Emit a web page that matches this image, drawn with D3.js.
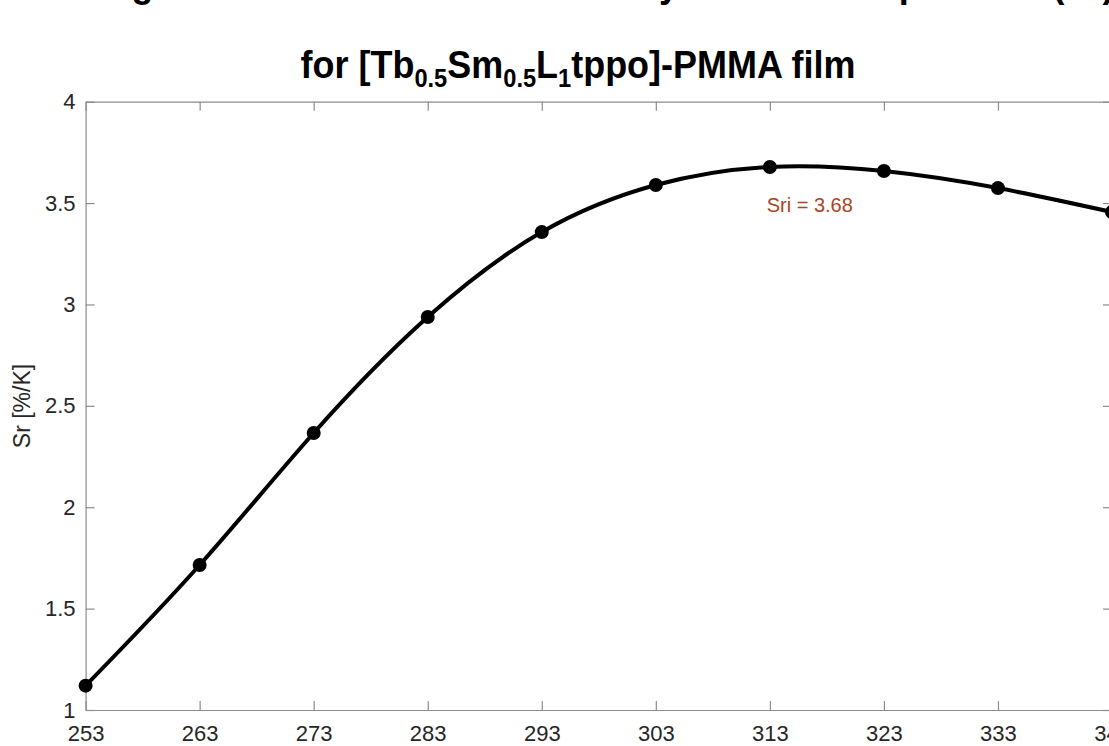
<!DOCTYPE html>
<html><head><meta charset="utf-8">
<script src="https://cdn.jsdelivr.net/npm/d3@7"></script>
<style>
body{margin:0;background:#fff;overflow:hidden;}
text{font-family:"Liberation Sans",Arial,Helvetica,sans-serif;}
</style>
</head><body>
<svg id="chart" width="1109" height="746"></svg>
<script>
// ---- data ----
const temperatures = [253, 263, 273, 283, 293, 303, 313, 323, 333, 343];
const srValues = [1.12, 1.715, 2.366, 2.938, 3.357, 3.589, 3.678, 3.658, 3.574, 3.456];
const xTickValues = [253, 263, 273, 283, 293, 303, 313, 323, 333, 343];
const yTickValues = [1, 1.5, 2, 2.5, 3, 3.5, 4];
const titleLine1 = "Change of relative thermal sensitivity with the temperature (Sr)";
const titleLine2 = [["for [Tb", false], ["0.5", true], ["Sm", false], ["0.5", true], ["L", false], ["1", true], ["tppo]-PMMA film", false]];
const yAxisLabel = "Sr [%/K]";
const annotationText = "Sri = 3.68";
const annotationPos = [316.5, 3.455];

// ---- layout ----
const svg = d3.select("#chart");
const L = 85.6, R = 1112, T = 101.7, B = 710;
const x = d3.scaleLinear().domain([253, 343]).range([L, R]);
const y = d3.scaleLinear().domain([1, 4]).range([B, T]);
const axisColor = "#8c8c8c", labelColor = "#262626";

function styleAxis(g) {
  g.select(".domain").attr("stroke", axisColor).attr("stroke-width", 1.2);
  g.selectAll(".tick line").attr("stroke", axisColor).attr("stroke-width", 1.2);
  g.selectAll(".tick text").attr("fill", labelColor).style("font-size", "22px")
    .style("font-family", '"Liberation Sans",Arial,sans-serif');
}

svg.append("g").attr("transform", `translate(0,${B})`)
  .call(d3.axisBottom(x).tickValues(xTickValues).tickSizeInner(-9).tickSizeOuter(0).tickPadding(15).tickFormat(d3.format("d")))
  .call(styleAxis);
svg.append("g").attr("transform", `translate(0,${T})`)
  .call(d3.axisTop(x).tickValues(xTickValues).tickSizeInner(-9).tickSizeOuter(0).tickFormat(""))
  .call(styleAxis);
svg.append("g").attr("transform", `translate(${L},0)`)
  .call(d3.axisLeft(y).tickValues(yTickValues).tickSizeInner(-9).tickSizeOuter(0).tickPadding(10).tickFormat(d3.format("~g")))
  .call(styleAxis);
svg.append("g").attr("transform", `translate(${R},0)`)
  .call(d3.axisRight(y).tickValues(yTickValues).tickSizeInner(-9).tickSizeOuter(0).tickFormat(""))
  .call(styleAxis);

// y label
svg.append("text")
  .attr("transform", `translate(30,406) rotate(-90)`)
  .attr("text-anchor", "middle")
  .attr("fill", labelColor)
  .style("font-size", "23px")
  .text(yAxisLabel);

// curve
const line = d3.line().x((d, i) => x(temperatures[i])).y(d => y(d)).curve(d3.curveNatural);
svg.append("path").datum(srValues)
  .attr("d", line).attr("fill", "none").attr("stroke", "#000").attr("stroke-width", 4)
  .attr("stroke-linejoin", "round");
svg.selectAll("circle.pt").data(srValues).join("circle")
  .attr("class", "pt")
  .attr("cx", (d, i) => x(temperatures[i])).attr("cy", d => y(d)).attr("r", 7).attr("fill", "#000");

// annotation
svg.append("text")
  .attr("x", x(annotationPos[0])).attr("y", y(annotationPos[1]))
  .attr("text-anchor", "middle")
  .attr("fill", "#a9451f")
  .style("font-size", "20px")
  .text(annotationText);

// title
const tg = svg.append("g");
const t1 = tg.append("text").attr("x", 0).attr("y", -3).attr("text-anchor", "middle")
  .style("font-size", "38px").style("font-weight", "bold").attr("fill", "#000").text(titleLine1);
const t2 = tg.append("text").attr("x", 0).attr("y", 78).attr("text-anchor", "middle")
  .style("font-size", "38px").style("font-weight", "bold").attr("fill", "#000");
titleLine2.forEach(([s, sub], i) => {
  const prevSub = i > 0 ? titleLine2[i - 1][1] : false;
  const ts = t2.append("tspan").text(s)
    .attr("dy", sub && !prevSub ? 9 : (!sub && prevSub ? -9 : 0));
  if (sub) ts.style("font-size", "25px");
});
const w2 = t2.node().getComputedTextLength();
const sx = 555 / w2;
tg.attr("transform", `translate(578,0) scale(${sx},1)`);
</script>
</body></html>
